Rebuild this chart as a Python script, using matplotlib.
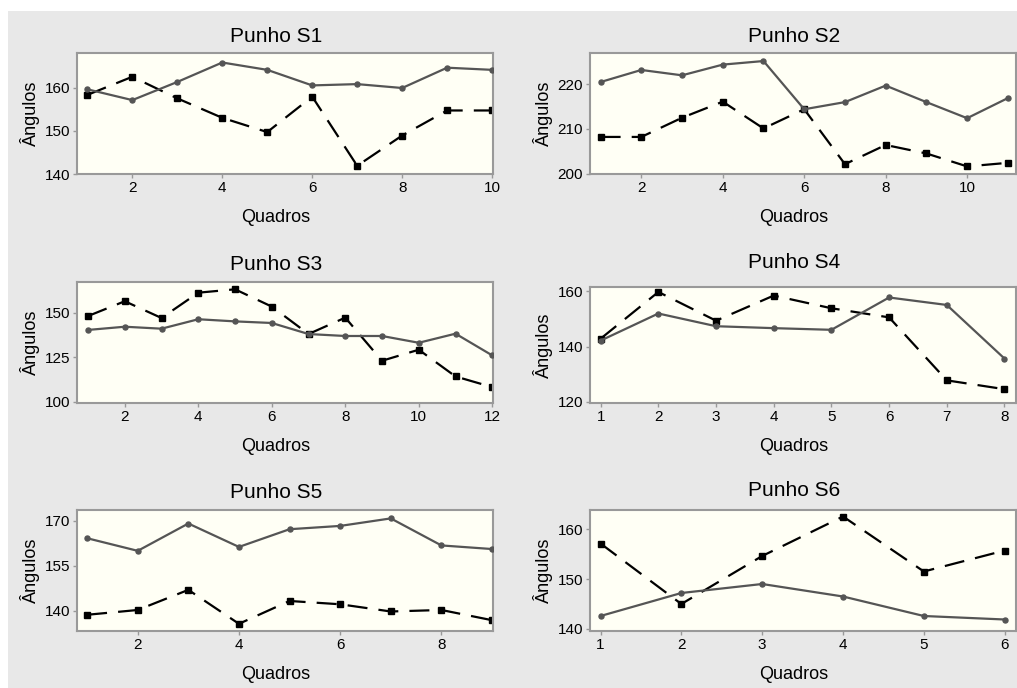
import matplotlib
matplotlib.use('Agg')
import matplotlib.pyplot as plt
from matplotlib.patches import Rectangle

plt.rcParams['font.family'] = ['Liberation Sans', 'DejaVu Sans']

# Punho S1..S6: solid (grey, circles) and dashed (black, squares)
titles = ['Punho S1', 'Punho S2', 'Punho S3', 'Punho S4', 'Punho S5', 'Punho S6']

s1_solid = [159.6, 157.1, 161.3, 165.8, 164.1, 160.5, 160.8, 159.9, 164.6, 164.1]
s1_dash = [158.3, 162.5, 157.5, 153.0, 149.7, 157.9, 141.9, 148.9, 154.7, 154.7]

s2_solid = [220.5, 223.2, 222.0, 224.4, 225.2, 214.4, 216.0, 219.7, 216.0, 212.4, 216.9]
s2_dash = [208.2, 208.2, 212.5, 216.1, 210.1, 214.4, 202.1, 206.4, 204.5, 201.6, 202.4]

s3_solid = [140.3, 142.1, 141.0, 146.3, 145.1, 144.2, 138.0, 136.9, 136.9, 133.1, 138.2, 126.0]
s3_dash = [148.1, 156.4, 147.0, 161.2, 163.1, 153.4, 138.0, 147.2, 123.0, 129.2, 114.2, 108.2]

s4_solid = [142.2, 152.0, 147.4, 146.7, 146.1, 157.8, 155.1, 135.7]
s4_dash = [142.9, 159.8, 149.4, 158.5, 153.9, 150.6, 127.8, 124.6]

s5_solid = [164.2, 160.0, 169.1, 161.3, 167.2, 168.3, 170.8, 161.8, 160.6]
s5_dash = [138.7, 140.3, 147.0, 135.7, 143.3, 142.2, 139.8, 140.3, 136.9]

s6_solid = [142.6, 147.2, 149.0, 146.5, 142.6, 141.9]
s6_dash = [157.1, 145.0, 154.6, 162.5, 151.5, 155.7]

solids = [s1_solid, s2_solid, s3_solid, s4_solid, s5_solid, s6_solid]
dashes = [s1_dash, s2_dash, s3_dash, s4_dash, s5_dash, s6_dash]

yticks = [[140, 150, 160], [200, 210, 220], [100, 125, 150],
          [120, 140, 160], [140, 155, 170], [140, 150, 160]]
xticks = [[2, 4, 6, 8, 10], [2, 4, 6, 8, 10], [2, 4, 6, 8, 10, 12],
          [1, 2, 3, 4, 5, 6, 7, 8], [2, 4, 6, 8], [1, 2, 3, 4, 5, 6]]
ylims = [(140, 168), (199.9, 227), (99.3, 167.2), (119.6, 161.6), (133.3, 173.6), (139.6, 163.8)]
xlims = [(0.77, 10.02), (0.74, 11.2), (0.70, 12.02), (0.815, 8.2), (0.80, 9.02), (0.87, 6.14)]

W, H = 1017, 688
fig = plt.figure(figsize=(W / 100, H / 100), dpi=100, facecolor='white')
fig.patches.append(Rectangle((8 / W, 0), 1 - 8 / W, 1 - 11 / H, transform=fig.transFigure,
                             facecolor='#e8e8e8', edgecolor='none', zorder=-10))

# pixel boxes (left, top, right, bottom) and title centre y
boxes = [(77, 53, 493, 174), (590, 53, 1016, 174),
         (77, 282, 493, 403), (590, 287, 1016, 403),
         (77, 510, 493, 631), (590, 510, 1016, 631)]
title_y = [37, 37, 265, 263, 492, 490]

for i, (l, t, r, b) in enumerate(boxes):
    ax = fig.add_axes([l / W, 1 - b / H, (r - l) / W, (b - t) / H])
    ax.set_facecolor('#fffff5')
    x = list(range(1, len(solids[i]) + 1))
    ax.plot(x, solids[i], color='#555555', lw=1.6, marker='o', ms=3.6, zorder=3)
    ax.plot(x, dashes[i], color='black', lw=1.6, ls=(0, (9, 5)), marker='s', ms=3.8, zorder=2)
    ax.set_xlim(*xlims[i])
    ax.set_ylim(*ylims[i])
    ax.set_xticks(xticks[i])
    ax.set_yticks(yticks[i])
    for s in ax.spines.values():
        s.set_color('#999999')
        s.set_linewidth(1.5)
    ax.tick_params(colors='#999999', labelcolor='black', labelsize=11, length=3, width=1, pad=2)
    cx = l + 0.478 * (r - l)
    fig.text(cx / W, 1 - title_y[i] / H, titles[i], fontsize=15, ha='center', va='center')
    ax.set_xlabel('Quadros', fontsize=13, labelpad=10, x=0.478)
    ax.set_ylabel('Ângulos', fontsize=13, labelpad=3)

fig.savefig('out.png', dpi=100, facecolor=fig.get_facecolor())
